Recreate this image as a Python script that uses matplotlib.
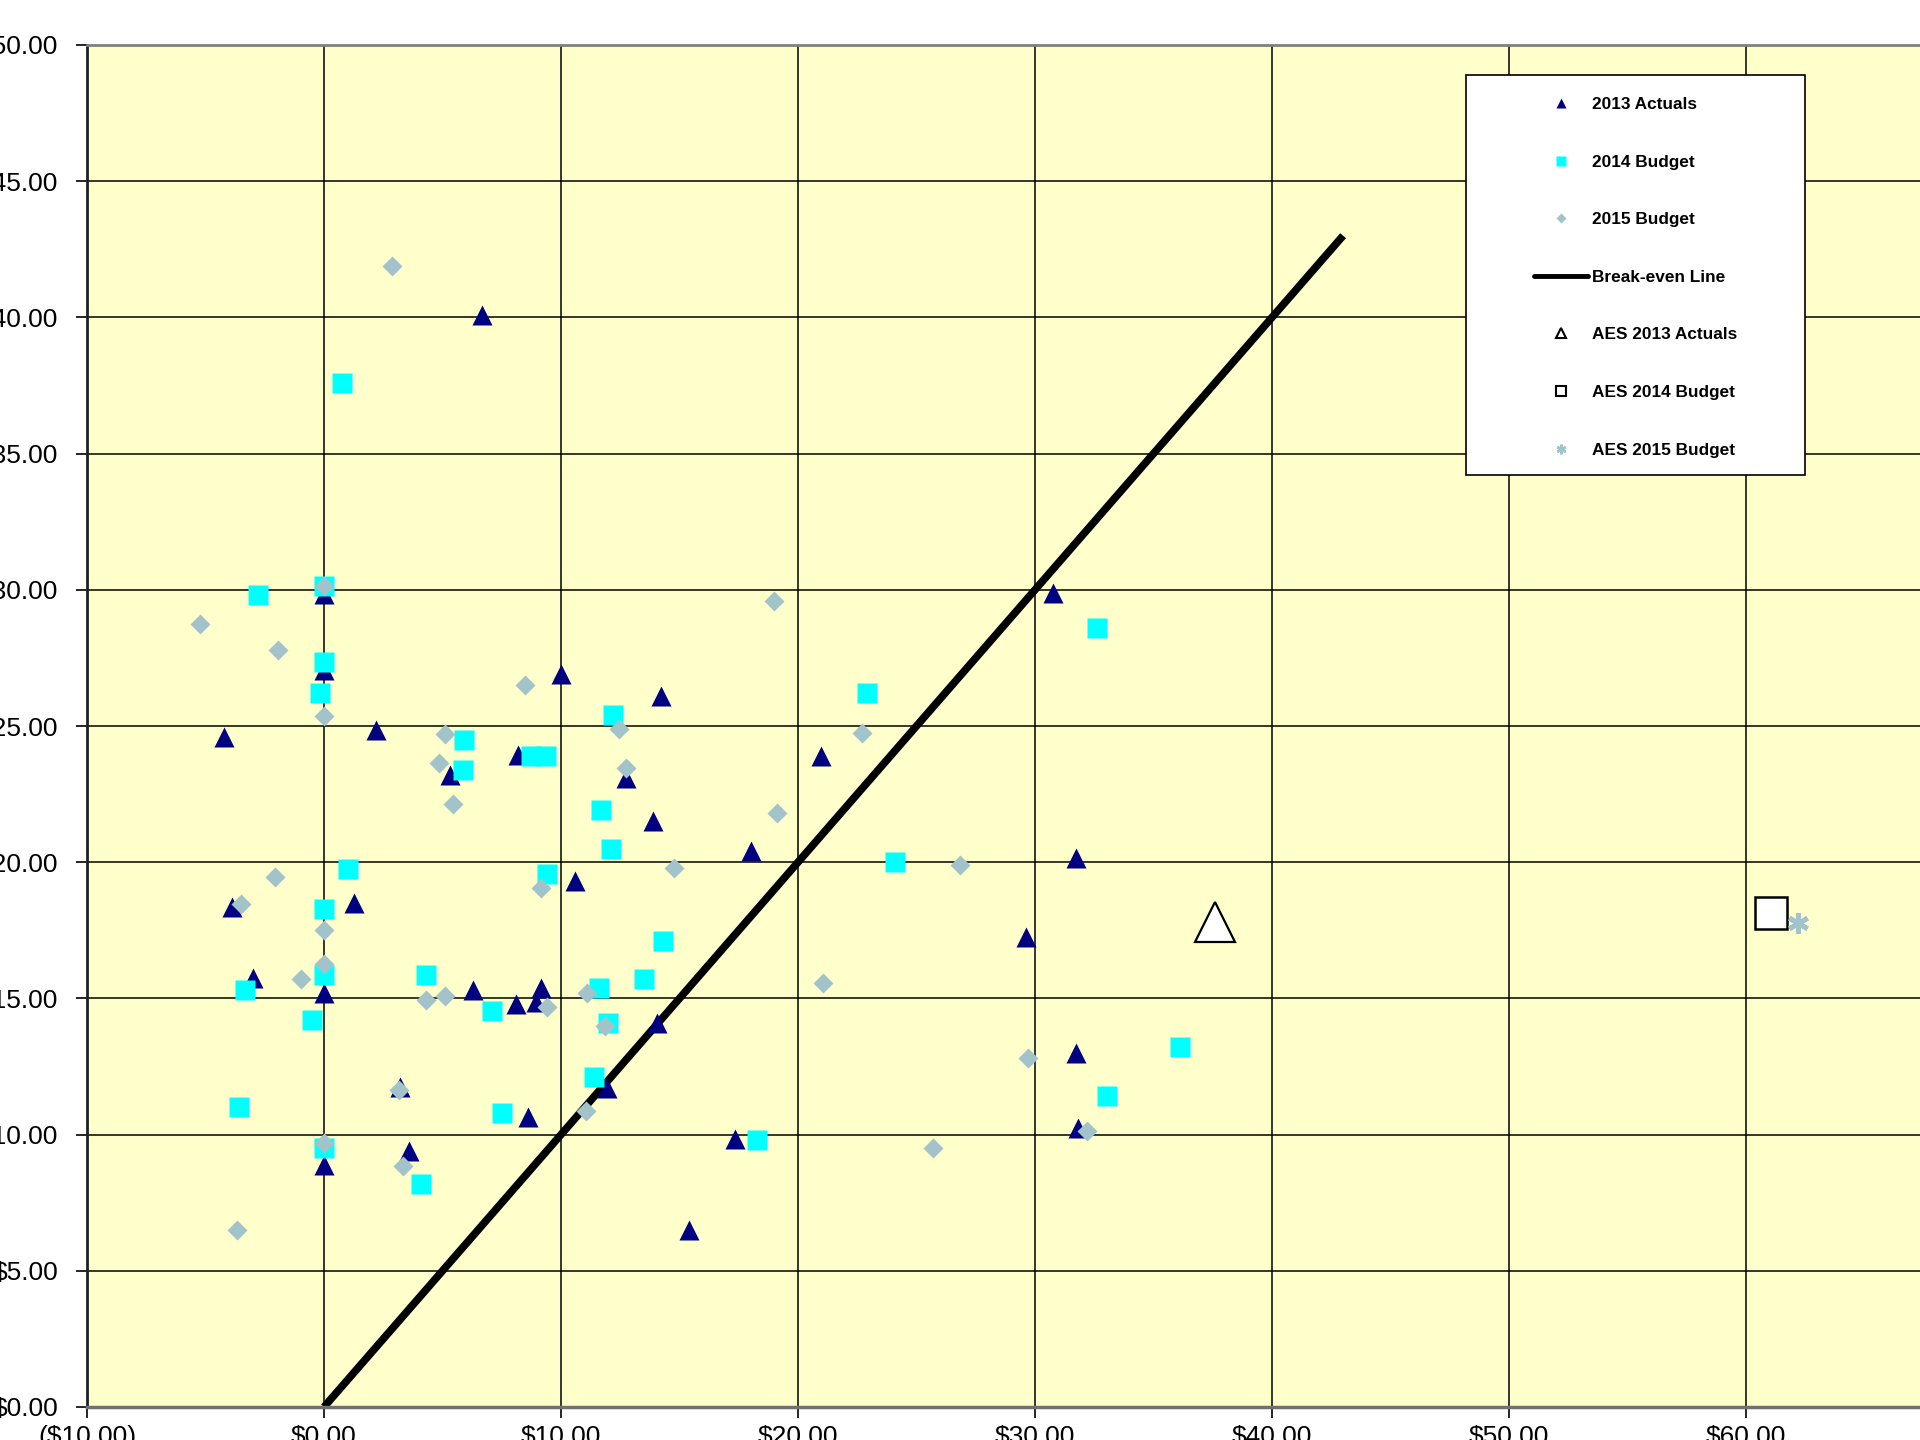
import numpy as np
import matplotlib
matplotlib.use('Agg')
import matplotlib.pyplot as plt
import matplotlib.ticker as ticker
from matplotlib.lines import Line2D
from matplotlib.patches import Rectangle

plt.rcParams['font.family'] = ['Liberation Sans', 'DejaVu Sans']

# 2013 Actuals
x2013 = [6.66, 0, 0, 10.0, 14.2, -4.2, 2.2, 8.2, 5.3, 12.75, 20.95, 13.9, 18.0, 10.6, -3.9,
         1.25, -3.0, 0, 6.3, 8.1, 9.15, 8.95, 14.07, 3.2, 11.95, 8.6, 0, 3.6, 17.35, 15.4,
         30.75, 31.75, 29.6, 31.75, 31.8]
y2013 = [40.1, 29.85, 27.05, 26.9, 26.1, 24.6, 24.85, 23.95, 23.2, 23.1, 23.9, 21.5, 20.4, 19.3, 18.35,
         18.5, 15.75, 15.2, 15.3, 14.8, 15.4, 14.85, 14.1, 11.75, 11.7, 10.65, 8.9, 9.4, 9.85, 6.5,
         29.9, 20.15, 17.25, 13.0, 10.25]

# 2014 Budget
x2014 = [0.74, -2.8, 0, 0, -0.15, 5.9, 5.85, 8.75, 9.35, 1.0, 0, 9.4, -3.35, 0, 4.3, 7.1, -0.5,
         -3.6, 0, 4.1, 7.5, 12.2, 22.9, 11.7, 12.1, 24.1, 14.3, 13.5, 11.6, 12.0, 11.4, 18.25,
         32.6, 36.1, 33.05]
y2014 = [37.6, 29.8, 30.15, 27.35, 26.2, 24.5, 23.4, 23.9, 23.9, 19.75, 18.3, 19.55, 15.3, 15.85, 15.85, 14.55, 14.2,
         11.0, 9.5, 8.2, 10.8, 25.4, 26.2, 21.9, 20.5, 20.0, 17.1, 15.7, 15.4, 14.1, 12.1, 9.8,
         28.6, 13.2, 11.4]

# 2015 Budget
x2015 = [2.85, 0, -5.25, -1.95, 0, 5.1, 4.85, 5.45, 8.5, -2.05, -3.5, 0, 0, -0.95, 4.3, 5.1,
         9.15, 9.4, 3.15, 0, 3.35, -3.65, 12.45, 12.75, 19.1, 14.75, 22.7, 21.05, 11.1, 11.85,
         11.05, 25.7, 26.85, 19.0, 29.7, 32.2]
y2015 = [41.9, 30.15, 28.75, 27.8, 25.35, 24.7, 23.65, 22.15, 26.5, 19.45, 18.45, 17.5, 16.25, 15.7, 14.95, 15.1,
         19.05, 14.7, 11.65, 9.7, 8.85, 6.5, 24.9, 23.45, 21.8, 19.8, 24.75, 15.55, 15.2, 14.0,
         10.85, 9.5, 19.9, 29.6, 12.8, 10.15]

# AES points
aes2013_x, aes2013_y = [37.6], [17.8]
aes2014_x, aes2014_y = [61.05], [18.15]
aes2015_x, aes2015_y = [62.2], [17.75]

# break-even line
be_x = [0, 43]
be_y = [0, 43]

navy = '#000080'
cyan = '#00FFFF'
gray = '#A2C3C9'

fig = plt.figure(figsize=(19.2, 14.4), dpi=100)
ax = fig.add_axes([87 / 1920, 33 / 1440, 1896 / 1920, 1362 / 1440])
ax.set_facecolor('#FFFFCC')

ax.plot(be_x, be_y, color='black', lw=5.5, zorder=2, solid_capstyle='butt')
ax.plot(x2013, y2013, ls='none', marker='^', ms=14.5, color=navy, mec='none', zorder=3)
ax.plot(x2014, y2014, ls='none', marker='s', ms=14.5, color=cyan, mec='none', zorder=4)
ax.plot(x2015, y2015, ls='none', marker='D', ms=10.5, color=gray, mec='none', zorder=5)
ax.plot(aes2013_x, aes2013_y, ls='none', marker='^', ms=29, mfc='white', mec='black', mew=1.6, zorder=6)
ax.plot(aes2014_x, aes2014_y, ls='none', marker='s', ms=23, mfc='white', mec='black', mew=1.8, zorder=6)
ax.plot(aes2015_x, aes2015_y, ls='none', marker=(6, 2, 0), ms=15, mec=gray, mew=3.5, zorder=7)

ax.set_xlim(-10, 70)
ax.set_ylim(0, 50)
ax.set_xticks(np.arange(-10, 71, 10))
ax.set_yticks(np.arange(0, 51, 5))


def money(v, pos):
    if v < 0:
        return '(${:,.2f})'.format(-v)
    return '${:,.2f}'.format(v)


ax.xaxis.set_major_formatter(ticker.FuncFormatter(money))
ax.yaxis.set_major_formatter(ticker.FuncFormatter(money))
ax.tick_params(axis='both', labelsize=19, length=8, width=1.2, direction='out', color='black')
ax.tick_params(axis='y', pad=12.5)
ax.tick_params(axis='x', pad=5)
ax.grid(True, color='black', lw=1.1)
ax.set_axisbelow(True)

ax.spines['right'].set_visible(False)
ax.spines['left'].set_color('#202020')
ax.spines['left'].set_linewidth(2)
ax.spines['top'].set_color('#808080')
ax.spines['top'].set_linewidth(2)
ax.spines['bottom'].set_color('#707070')
ax.spines['bottom'].set_linewidth(2.5)

# legend box
ax.add_patch(Rectangle(((1466 - 87) / 1896, (1407 - 475) / 1362), 339 / 1896, 400 / 1362,
                       transform=ax.transAxes, facecolor='white', edgecolor='black', lw=1.2, zorder=10))

handles = [
    Line2D([], [], ls='none', marker='^', ms=7, color=navy, mec='none'),
    Line2D([], [], ls='none', marker='s', ms=6.5, color=cyan, mec='none'),
    Line2D([], [], ls='none', marker='D', ms=4.8, color=gray, mec='none'),
    Line2D([], [], color='black', lw=3.5, solid_capstyle='round'),
    Line2D([], [], ls='none', marker='^', ms=6.5, mfc='white', mec='black', mew=1.5),
    Line2D([], [], ls='none', marker='s', ms=6.5, mfc='white', mec='black', mew=1.5),
    Line2D([], [], ls='none', marker=(6, 2, 0), ms=7, mec=gray, mew=1.8),
]
labels = ['2013 Actuals', '2014 Budget', '2015 Budget', 'Break-even Line',
          'AES 2013 Actuals', 'AES 2014 Budget', 'AES 2015 Budget']
leg = ax.legend(handles, labels, loc='upper left', bbox_to_anchor=(1534 / 1920, 1 - 97 / 1440),
                bbox_transform=fig.transFigure, frameon=False, borderpad=0, borderaxespad=0,
                handlelength=3.14, handletextpad=0.25, labelspacing=2.47,
                prop={'size': 12.4, 'weight': 'bold'})
leg.set_zorder(11)

fig.savefig('out.png', dpi=100)
